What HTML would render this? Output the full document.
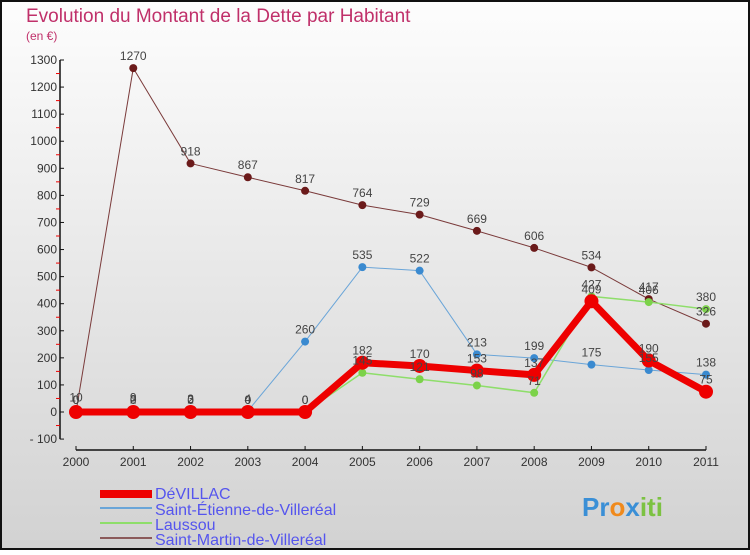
<!DOCTYPE html>
<html><head><meta charset="utf-8"><style>
body{margin:0;width:750px;height:550px;overflow:hidden;font-family:"Liberation Sans",sans-serif}
</style></head><body>
<svg width="750" height="550" id="chart">
<defs><linearGradient id="bg" x1="0" y1="0" x2="0" y2="1"><stop offset="0" stop-color="#fdfdfd"/><stop offset="1" stop-color="#d2d2d2"/></linearGradient></defs>
<rect x="1" y="1" width="748" height="548" fill="url(#bg)" stroke="#111" stroke-width="2"/>
<text x="26" y="22" font-size="19" fill="#c0306a">Evolution du Montant de la Dette par Habitant</text>
<text x="26" y="40" font-size="12" fill="#c0306a">(en €)</text>
<g id="axes"></g><g id="series"></g><g id="labels"></g>
<g>
<rect x="100" y="490" width="52" height="8" fill="#ee0000"/>
<line x1="100" y1="508" x2="152" y2="508" stroke="#6aa5d8" stroke-width="2"/>
<line x1="100" y1="523" x2="152" y2="523" stroke="#8ede6a" stroke-width="2"/>
<line x1="100" y1="538" x2="152" y2="538" stroke="#8b5a5a" stroke-width="2"/>
<g font-size="16" fill="#5555ee">
<text x="155" y="499">DéVILLAC</text>
<text x="155" y="515">Saint-Étienne-de-Villeréal</text>
<text x="155" y="530">Laussou</text>
<text x="155" y="545">Saint-Martin-de-Villeréal</text>
</g></g>
<g font-size="26" font-weight="bold">
<text x="582" y="516"><tspan fill="#3a8fd6">Pr</tspan><tspan fill="#f08a1c">o</tspan><tspan fill="#3a8fd6">x</tspan><tspan fill="#7cc242">iti</tspan></text>
</g>
</svg>
<script>
const years=["2000","2001","2002","2003","2004","2005","2006","2007","2008","2009","2010","2011"];
const yTicks=[-100,0,100,200,300,400,500,600,700,800,900,1000,1100,1200,1300];
const devillac=[0,0,0,0,0,182,170,153,137,409,190,75];
const stEtienne=[10,9,3,4,260,535,522,213,199,175,155,138];
const laussou=[0,2,2,0,0,145,121,98,71,427,406,380];
const stMartin=[0,1270,918,867,817,764,729,669,606,534,417,326];
const NS="http://www.w3.org/2000/svg";
const X=i=>76+i*(630/11);
const Y=v=>412-v*(352/1300);
function mk(t,a,p){const e=document.createElementNS(NS,t);for(const k in a)e.setAttribute(k,a[k]);p.appendChild(e);return e;}
const ax=document.getElementById('axes');
let yl=mk('line',{x1:60,y1:Y(1300),x2:60,y2:Y(-100),stroke:'#111','stroke-width':1.5},ax);


yTicks.forEach(v=>{
 mk('line',{x1:60,y1:Y(v),x2:64,y2:Y(v),stroke:'#111'},ax);
 if(v<1300)mk('line',{x1:56,y1:Y(v+50),x2:60,y2:Y(v+50),stroke:'#e00'},ax);
 const t=mk('text',{x:57,y:Y(v)+4,'text-anchor':'end','font-size':12,fill:'#333'},ax);
 t.textContent=v<0?'- '+(-v):v;
 
 
});
let xl=mk('line',{x1:76,y1:450,x2:706,y2:450,stroke:'#111','stroke-width':1.5},ax);


years.forEach((y,i)=>{
 mk('line',{x1:X(i),y1:446,x2:X(i),y2:450,stroke:'#111'},ax);
 const t=mk('text',{x:X(i),y:466,'text-anchor':'middle','font-size':12,fill:'#333'},ax);
 t.textContent=y;
 
 
});
const sg=document.getElementById('series'),lg=document.getElementById('labels');
function series(data,name,col,w,r,dot){
 const g=mk('g',{},sg);
 
 
 mk('polyline',{points:data.map((v,i)=>X(i)+','+Y(v)).join(' '),fill:'none',stroke:col,'stroke-width':w,'stroke-linejoin':'round'},g);
 data.forEach((v,i)=>{
  const c=mk('circle',{cx:X(i),cy:Y(v),r:r,fill:dot},g);
  
  
  const t=mk('text',{x:X(i),y:Y(v)-8,'text-anchor':'middle','font-size':12,fill:'#444'},lg);
  t.textContent=v;
  
  
 });
}
series(stMartin,'saint-martin-line','#7a3a3a',1,4,'#6b1a1a');
series(stEtienne,'saint-etienne-line','#6aa5d8',1,4,'#3a8ad0');
series(laussou,'laussou-line','#8ede6a',1.5,4,'#7cd24a');
series(devillac,'devillac-line','#ee0000',7,7,'#ee0000');
</script>
</body></html>
